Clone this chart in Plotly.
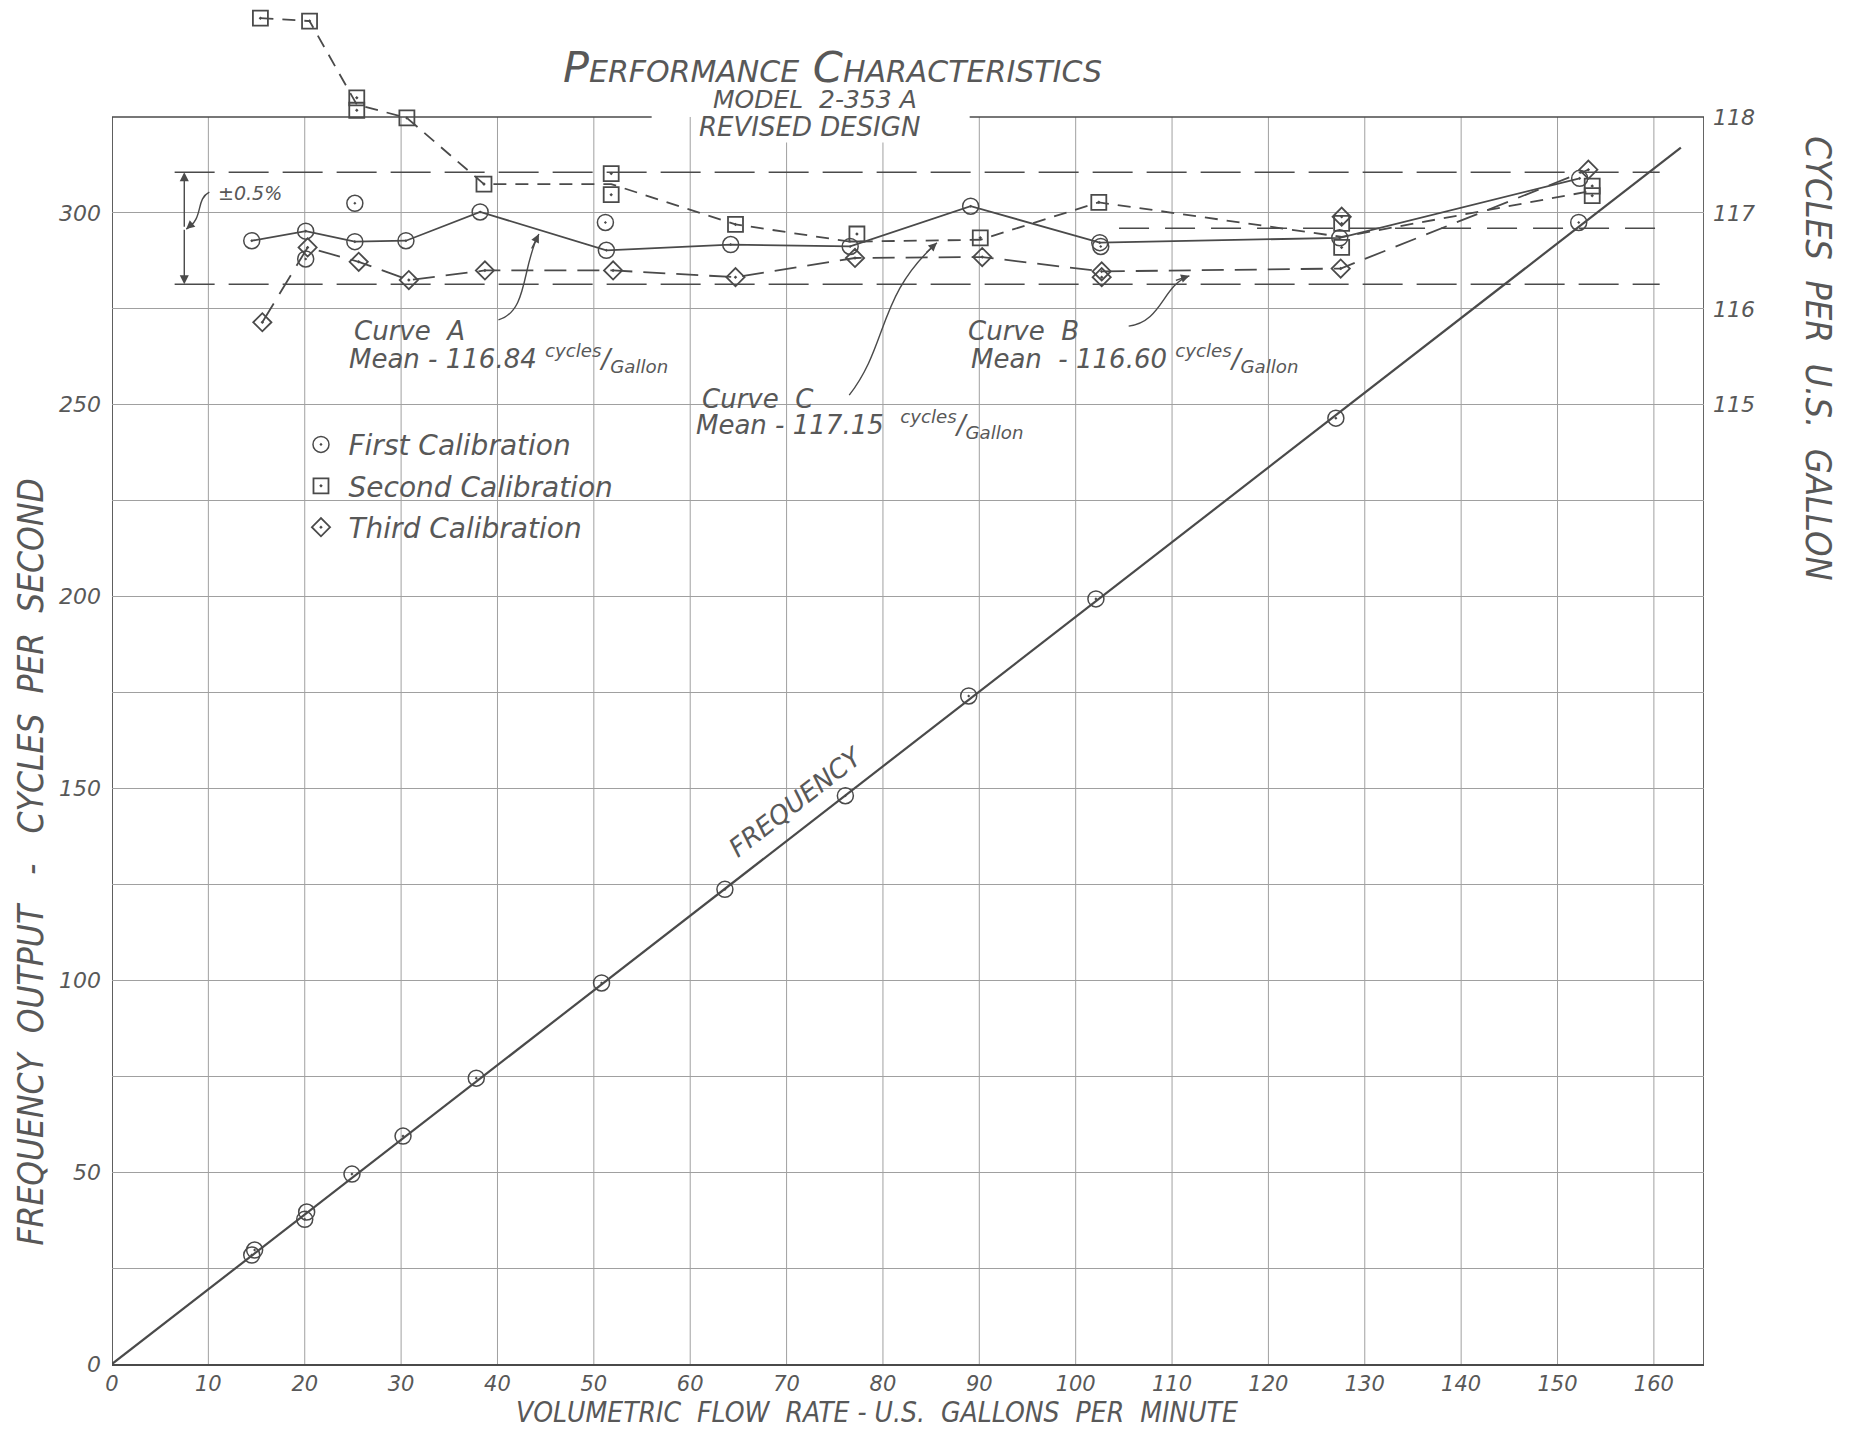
import plotly.graph_objects as go

# ---------------- data ----------------
# Frequency output (left axis, cycles per second) vs flow (GPM)
freq_gpm = [14.5, 14.8, 20.0, 20.2, 24.9, 30.2, 37.8, 50.8, 63.6, 76.1, 88.9, 102.1, 127.0, 152.2]
freq_hz = [28.4, 29.7, 37.7, 39.6, 49.5, 59.4, 74.5, 99.3, 123.7, 148.1, 174.1, 199.4, 246.5, 297.5]
freq_line_gpm = [0, 162.8]
freq_line_hz = [0, 317.0]

# K-factor points (right axis, cycles per U.S. gallon)
first_gpm = [14.5, 20.1, 20.1, 25.2, 25.2, 30.5, 38.2, 51.2, 51.3, 64.2, 76.6, 89.1, 102.5, 102.6, 127.4, 152.3]
first_cpg = [116.71, 116.81, 116.52, 117.10, 116.70, 116.71, 117.01, 116.90, 116.61, 116.67, 116.65, 117.07, 116.69, 116.65, 116.74, 117.36]

second_gpm = [15.4, 20.5, 25.4, 25.4, 30.6, 38.6, 51.8, 51.8, 64.7, 77.3, 90.1, 102.4, 127.6, 127.6, 153.6, 153.6]
second_cpg = [119.03, 119.00, 118.20, 118.07, 117.99, 117.30, 117.41, 117.19, 116.88, 116.78, 116.74, 117.11, 116.89, 116.64, 117.28, 117.18]

third_gpm = [15.6, 20.3, 25.6, 30.8, 38.7, 52.0, 64.7, 77.1, 90.3, 102.7, 102.7, 127.5, 127.6, 153.2]
third_cpg = [115.86, 116.64, 116.49, 116.30, 116.40, 116.40, 116.33, 116.53, 116.54, 116.39, 116.33, 116.42, 116.96, 117.45]

# Faired curves
curve_a_gpm = [14.5, 20.1, 25.2, 30.5, 38.2, 51.3, 64.2, 76.6, 89.1, 102.5, 127.4, 152.3]
curve_a_cpg = [116.71, 116.81, 116.70, 116.71, 117.01, 116.61, 116.67, 116.65, 117.07, 116.69, 116.74, 117.36]
curve_b_gpm = [15.6, 20.3, 25.6, 30.8, 38.7, 52.0, 64.7, 77.1, 90.3, 102.7, 127.5, 153.2]
curve_b_cpg = [115.86, 116.64, 116.49, 116.30, 116.40, 116.40, 116.33, 116.53, 116.54, 116.39, 116.42, 117.45]
curve_c_gpm = [15.4, 20.5, 25.4, 30.6, 38.6, 51.8, 64.7, 76.6, 90.1, 102.4, 127.6, 153.6]
curve_c_cpg = [119.03, 119.00, 118.13, 117.99, 117.30, 117.30, 116.88, 116.70, 116.72, 117.11, 116.75, 117.23]

# +/-0.5 % band about the Curve A mean
band_mean = 116.84
band_limits = [117.424, 116.256]

x_ticks = list(range(0, 170, 10))
y_ticks = [0, 50, 100, 150, 200, 250, 300]
y_minor = [25, 75, 125, 175, 225, 275]
y2_ticks = [115, 116, 117, 118]

# chart frame (axis units)
X_MAX = 165.2
Y_TOP = 325.0            # top of the ruled grid (Hz)
Y_VIEW = 352.88          # axis extends above the grid so off-scale points can show
HZ_PER_CPG = 25.0
CPG_AT_ZERO = 105.0
TITLE_GAP = (56.0, 89.0)  # break in the top border behind the title

# ---------------- styling ----------------
INK = "#4a4a4a"
TXT = "#585858"
GRID = "#a0a0a0"
FAM = "DejaVu Sans"
NARROW = "DejaVu Sans Condensed, Liberation Sans Narrow, DejaVu Sans"


def f(size, color=TXT, variant=None, family=FAM):
    d = dict(family=family, size=size, color=color, style="italic")
    if variant:
        d["variant"] = variant
    return d


fig = go.Figure()

# frequency line and points
fig.add_trace(go.Scatter(x=freq_line_gpm, y=freq_line_hz, mode="lines",
                         line=dict(color=INK, width=2.2), showlegend=False, hoverinfo="skip"))
fig.add_trace(go.Scatter(x=freq_gpm, y=freq_hz, mode="markers", showlegend=False,
                         marker=dict(symbol="circle-open-dot", size=16, color=INK,
                                     line=dict(width=1.5, color=INK))))

# faired curves (right axis)
fig.add_trace(go.Scatter(x=curve_a_gpm, y=curve_a_cpg, yaxis="y2", mode="lines", showlegend=False,
                         line=dict(color=INK, width=1.8), cliponaxis=False))
fig.add_trace(go.Scatter(x=curve_b_gpm, y=curve_b_cpg, yaxis="y2", mode="lines", showlegend=False,
                         line=dict(color=INK, width=1.8, dash="22px,11px"), cliponaxis=False))
fig.add_trace(go.Scatter(x=curve_c_gpm, y=curve_c_cpg, yaxis="y2", mode="lines", showlegend=False,
                         line=dict(color=INK, width=1.8, dash="13px,9px"), cliponaxis=False))

# calibration points
fig.add_trace(go.Scatter(x=first_gpm, y=first_cpg, yaxis="y2", mode="markers", name="First Calibration",
                         legendgroup="a", cliponaxis=False,
                         marker=dict(symbol="circle-open-dot", size=16, color=INK, line=dict(width=1.5, color=INK))))
fig.add_trace(go.Scatter(x=second_gpm, y=second_cpg, yaxis="y2", mode="markers", name="Second Calibration",
                         legendgroup="b", cliponaxis=False,
                         marker=dict(symbol="square-open-dot", size=15, color=INK, line=dict(width=1.8, color=INK))))
fig.add_trace(go.Scatter(x=third_gpm, y=third_cpg, yaxis="y2", mode="markers", name="Third Calibration",
                         legendgroup="c", cliponaxis=False,
                         marker=dict(symbol="diamond-open-dot", size=14, color=INK, line=dict(width=1.8, color=INK))))

shapes = []
# vertical rulings only up to the top of the grid
for xv in x_ticks:
    shapes.append(dict(type="line", xref="x", yref="y", x0=xv, x1=xv, y0=0, y1=Y_TOP, layer="below",
                       line=dict(color=GRID, width=1)))
# frame
frame = dict(color=INK, width=1.7)
shapes.append(dict(type="line", xref="x", yref="y", x0=0, x1=0, y0=0, y1=Y_TOP, line=frame, layer="below"))
shapes.append(dict(type="line", xref="x", yref="y", x0=X_MAX, x1=X_MAX, y0=0, y1=Y_TOP, line=frame, layer="below"))
shapes.append(dict(type="line", xref="x", yref="y", x0=0, x1=TITLE_GAP[0], y0=Y_TOP, y1=Y_TOP, line=frame,
                   layer="below"))
shapes.append(dict(type="line", xref="x", yref="y", x0=TITLE_GAP[1], x1=X_MAX, y0=Y_TOP, y1=Y_TOP, line=frame,
                   layer="below"))
# band lines
for v in band_limits:
    shapes.append(dict(type="line", xref="x", yref="y2", x0=6.5, x1=160.6, y0=v, y1=v,
                       line=dict(color=INK, width=1.6, dash="40px,14px")))
shapes.append(dict(type="line", xref="x", yref="y2", x0=104.5, x1=160.6, y0=band_mean, y1=band_mean,
                   line=dict(color=INK, width=1.5, dash="30px,16px")))
# curved leaders
leader = dict(color=INK, width=1.4)
shapes.append(dict(type="path", xref="x", yref="y", path="M 40.1,272.1 C 43.2,274.4 42.5,285.9 44.3,294.5", line=leader))
shapes.append(dict(type="path", xref="x", yref="y", path="M 105.5,270.5 C 109.0,271.6 109.0,281.2 111.8,283.6", line=leader))
shapes.append(dict(type="path", xref="x", yref="y", path="M 76.5,252.5 C 80.6,265.8 79.4,278.3 85.6,292.2", line=leader))
shapes.append(dict(type="path", xref="x", yref="y", path="M 10.1,305.4 C 8.6,303.5 9.6,298.5 7.7,295.8", line=leader))

ann = []
# title block
ann.append(dict(x=74.8, y=338.0, xref="x", yref="y", text="Performance Characteristics", showarrow=False,
                font=f(43, variant="small-caps")))
ann.append(dict(x=72.9, y=329.6, xref="x", yref="y", text="MODEL  2-353 A", showarrow=False, font=f(25)))
ann.append(dict(x=72.4, y=322.4, xref="x", yref="y", text="REVISED DESIGN", showarrow=False, font=f(26),
                bgcolor="white", borderpad=0))
# bracket arrows
for tgt in band_limits:
    ann.append(dict(x=7.5, y=tgt, xref="x", yref="y2", ax=7.5, ay=band_mean, axref="x", ayref="y2",
                    text="", showarrow=True, arrowhead=2, arrowsize=1.3, arrowwidth=1.4, arrowcolor=INK))
ann.append(dict(x=10.8, y=117.21, xref="x", yref="y2", text="±0.5%", showarrow=False, xanchor="left", font=f(19)))
# leader arrowheads
for (hx, hy, axp, ayp) in [(44.3, 294.5, -8, 16), (111.8, 283.6, -15, 5), (85.6, 292.2, -12, 11), (7.7, 295.8, 8, -7)]:
    ann.append(dict(x=hx, y=hy, xref="x", yref="y", ax=axp, ay=ayp, text="", showarrow=True,
                    arrowhead=2, arrowsize=1.2, arrowwidth=1.4, arrowcolor=INK))
# curve labels
LBL = 26
ann.append(dict(x=24.9, y=269.3, xref="x", yref="y", text="Curve  A", showarrow=False, xanchor="left", font=f(LBL)))
ann.append(dict(x=24.4, y=262.0, xref="x", yref="y", xanchor="left", showarrow=False, font=f(LBL),
                text="Mean - 116.84 <sup>cycles</sup>/<sub>Gallon</sub>"))
ann.append(dict(x=88.6, y=269.3, xref="x", yref="y", text="Curve  B", showarrow=False, xanchor="left", font=f(LBL)))
ann.append(dict(x=88.9, y=262.0, xref="x", yref="y", xanchor="left", showarrow=False, font=f(LBL),
                text="Mean  - 116.60 <sup>cycles</sup>/<sub>Gallon</sub>"))
ann.append(dict(x=61.0, y=251.5, xref="x", yref="y", text="Curve  C", showarrow=False, xanchor="left", font=f(LBL)))
ann.append(dict(x=60.4, y=244.8, xref="x", yref="y", xanchor="left", showarrow=False, font=f(LBL),
                text="Mean - 117.15  <sup>cycles</sup>/<sub>Gallon</sub>"))
# frequency label
ann.append(dict(x=70.9, y=146.6, xref="x", yref="y", text="FREQUENCY", showarrow=False, textangle=-37.8,
                font=f(26)))
# axis titles
ann.append(dict(x=-0.0644, y=130.8, xref="paper", yref="y", xanchor="left", yanchor="middle",
                text="FREQUENCY  OUTPUT   -   CYCLES  PER  SECOND",
                showarrow=False, textangle=-90, font=f(35, family=NARROW)))
ann.append(dict(x=1.0855, y=262.2, xref="paper", yref="y", xanchor="right", yanchor="middle",
                text="CYCLES  PER  U.S.  GALLON",
                showarrow=False, textangle=90, font=f(36, family=NARROW)))
ann.append(dict(x=79.4, y=-48.5 / 1354.0, xref="x", yref="paper", xanchor="center", yanchor="middle",
                text="VOLUMETRIC  FLOW  RATE - U.S.  GALLONS  PER  MINUTE",
                showarrow=False, font=f(28, family=NARROW)))

fig.update_layout(
    width=1843, height=1424,
    margin=dict(l=104, r=147, t=2, b=68),
    paper_bgcolor="white", plot_bgcolor="white",
    font=f(20),
    shapes=shapes, annotations=ann,
    legend=dict(x=0.114, y=246.1 / Y_VIEW, xanchor="left", yanchor="top", bgcolor="rgba(0,0,0,0)",
                font=f(28), tracegroupgap=2, itemsizing="trace", itemwidth=45),
    xaxis=dict(range=[0, X_MAX], tickvals=x_ticks, showgrid=False,
               zeroline=False, showline=True, linecolor=INK, linewidth=1.7, mirror=False,
               ticks="", tickfont=f(21), ticklabelstandoff=0),
    yaxis=dict(range=[0, Y_VIEW], tickvals=y_ticks, showgrid=True, gridcolor=GRID, gridwidth=1,
               minor=dict(tickvals=y_minor, showgrid=True, gridcolor=GRID, gridwidth=1),
               zeroline=False, showline=False, ticks="", tickfont=f(22), ticklabelstandoff=10),
    yaxis2=dict(range=[CPG_AT_ZERO, CPG_AT_ZERO + Y_VIEW / HZ_PER_CPG], tickvals=y2_ticks, overlaying="y",
                side="right", showgrid=False, zeroline=False, showline=False, ticks="", tickfont=f(22),
                ticklabelstandoff=8),
)

fig.write_html("out.html")
